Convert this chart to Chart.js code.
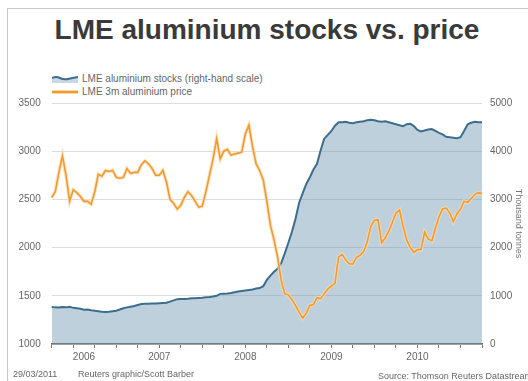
<!DOCTYPE html>
<html lang="en">
<head>
<meta charset="UTF-8">
<title>LME aluminium stocks vs. price</title>
<script src="https://cdn.jsdelivr.net/npm/chart.js"></script>
<style>
  body { margin: 0; width: 528px; height: 381px; overflow: hidden; background: #fff; position: relative;
         font-family: "Liberation Sans", Arial, sans-serif; }
  .frame { position: absolute; left: 7px; top: 8px; width: 560px; height: 400px; border: 1px solid #c8c8c8; }
  h1 { position: absolute; left: 0; width: 534px; top: 14px; margin: 0; text-align: center;
       font: bold 28px "Liberation Sans", Arial, sans-serif; color: #3a3a3a; }
  #chart { position: absolute; left: 0; top: 0; }
  .legend { position: absolute; left: 52px; top: 72px; font-size: 10px; color: #666; line-height: 13px; }
  .legend div { display: flex; align-items: center; }
  .legend svg { margin-right: 4px; }
  .foot { position: absolute; top: 369px; font-size: 9px; color: #666; white-space: nowrap; }
</style>
</head>
<body>
<div class="frame"></div>
<h1>LME aluminium stocks vs. price</h1>
<div class="legend">
  <div><svg width="26" height="8"><path d="M0 3 Q4 1 8 3 T16 4 T26 2 L26 8 L0 8 Z" fill="#c9d9e3"/><path d="M0 3 Q4 1 8 3 T16 4 T26 2" stroke="#3d6d8e" stroke-width="2" fill="none"/></svg>LME aluminium stocks (right-hand scale)</div>
  <div><svg width="26" height="8"><line x1="0" y1="4" x2="26" y2="4" stroke="#f7d7a6" stroke-width="4"/><line x1="0" y1="4" x2="26" y2="4" stroke="#ef9a33" stroke-width="2"/></svg>LME 3m aluminium price</div>
</div>
<canvas id="chart" width="528" height="381"></canvas>
<div class="foot" style="left:13px">29/03/2011</div>
<div class="foot" style="left:78px">Reuters graphic/Scott Barber</div>
<div class="foot" style="left:378px;top:371px">Source: Thomson Reuters Datastream</div>

<script>
const dates = [
  '2006-04-01','2006-04-16','2006-05-01','2006-05-16','2006-06-01','2006-06-16','2006-07-01','2006-07-16','2006-08-01','2006-08-16',
  '2006-09-01','2006-09-16','2006-10-01','2006-10-16','2006-11-01','2006-11-16','2006-12-01','2006-12-16',
  '2007-01-01','2007-01-16','2007-02-01','2007-02-16','2007-03-01','2007-03-16','2007-04-01','2007-04-16','2007-05-01','2007-05-16',
  '2007-06-01','2007-06-16','2007-07-01','2007-07-16','2007-08-01','2007-08-16','2007-09-01','2007-09-16','2007-10-01','2007-10-16',
  '2007-11-01','2007-11-16','2007-12-01','2007-12-16',
  '2008-01-01','2008-01-16','2008-02-01','2008-02-16','2008-03-01','2008-03-16','2008-04-01','2008-04-16','2008-05-01','2008-05-16',
  '2008-06-01','2008-06-16','2008-07-01','2008-07-16','2008-08-01','2008-08-16','2008-09-01','2008-09-16','2008-10-01','2008-10-16',
  '2008-11-01','2008-11-16','2008-12-01','2008-12-16',
  '2009-01-01','2009-01-16','2009-02-01','2009-02-16','2009-03-01','2009-03-16','2009-04-01','2009-04-16','2009-05-01','2009-05-16',
  '2009-06-01','2009-06-16','2009-07-01','2009-07-16','2009-08-01','2009-08-16','2009-09-01','2009-09-16','2009-10-01','2009-10-16',
  '2009-11-01','2009-11-16','2009-12-01','2009-12-16',
  '2010-01-01','2010-01-16','2010-02-01','2010-02-16','2010-03-01','2010-03-16','2010-04-01','2010-04-16','2010-05-01','2010-05-16',
  '2010-06-01','2010-06-16','2010-07-01','2010-07-16','2010-08-01','2010-08-16','2010-09-01','2010-09-16','2010-10-01','2010-10-16',
  '2010-11-01','2010-11-16','2010-12-01','2010-12-16',
  '2011-01-01','2011-01-16','2011-02-01','2011-02-16','2011-03-01','2011-03-16','2011-04-01'
];

// LME 3m aluminium price, $/tonne (left scale)
const price = [
  2520,2580,2780,2950,2750,2480,2600,2570,2530,2480,
  2480,2450,2580,2760,2740,2800,2790,2800,2730,2720,
  2730,2820,2770,2780,2780,2860,2900,2870,2820,2750,
  2750,2800,2680,2500,2460,2400,2440,2520,2580,2540,
  2480,2420,2430,2580,2750,2920,3130,2920,3000,3020,
  2960,2970,2980,2990,3180,3270,3050,2870,2800,2700,
  2480,2230,2080,1900,1660,1520,1510,1460,1400,1330,
  1270,1320,1400,1410,1480,1470,1520,1570,1600,1630,
  1900,1930,1870,1830,1830,1900,1920,1960,2060,2220,
  2285,2290,2050,2100,2170,2260,2360,2390,2220,2080,
  2000,1950,1980,1980,2160,2090,2070,2200,2320,2400,
  2410,2360,2270,2350,2400,2480,2470,2510,2550,2570,
  2560
];

// LME aluminium stocks, thousand tonnes (right scale)
const stocks = [
  770,760,755,765,760,770,750,740,730,710,
  715,700,690,680,670,665,670,680,690,715,
  740,760,775,790,810,830,835,835,840,840,
  845,850,855,880,905,930,935,935,940,950,
  950,955,960,970,975,985,1000,1040,1045,1050,
  1060,1075,1090,1100,1110,1120,1130,1150,1160,1200,
  1330,1420,1500,1560,1680,1880,2100,2330,2600,2930,
  3130,3320,3460,3620,3740,4020,4260,4340,4420,4530,
  4600,4600,4610,4590,4580,4600,4610,4620,4640,4650,
  4640,4620,4610,4620,4600,4580,4560,4540,4520,4560,
  4570,4520,4440,4410,4430,4450,4460,4420,4380,4350,
  4300,4290,4280,4270,4290,4420,4560,4590,4610,4600,
  4600
];

const yearTickDates = ['2006-08-16', '2007-07-01', '2008-07-01', '2009-07-01', '2010-07-01'];
const yearTickLabels = ['2006', '2007', '2008', '2009', '2010'];

function isQuarterStart(d) {
  const m = +d.slice(5, 7);
  return d.slice(8) === '01' && (m - 1) % 3 === 0;
}

const axisFont = { family: '"Liberation Sans", Arial, sans-serif', size: 10 };
const plain = v => String(v);

new Chart(document.getElementById('chart'), {
  type: 'line',
  data: {
    labels: dates,
    datasets: [
      { label: 'LME 3m aluminium price', data: price, yAxisID: 'y',
        borderColor: '#ef9a33', borderWidth: 1.6, pointRadius: 0, fill: false, order: 0 },
      { label: 'price halo', data: price, yAxisID: 'y',
        borderColor: 'rgba(250,220,175,0.8)', borderWidth: 3.6, pointRadius: 0, fill: false, order: 1 },
      { label: 'LME aluminium stocks (right-hand scale)', data: stocks, yAxisID: 'y2',
        borderColor: '#3d6d8e', borderWidth: 2, pointRadius: 0,
        fill: 'origin', backgroundColor: 'rgba(111,151,177,0.45)', order: 2 }
    ]
  },
  options: {
    responsive: false,
    animation: false,
    devicePixelRatio: 1,
    layout: { padding: { top: 103, left: 0, right: 0, bottom: 0 } },
    plugins: { legend: { display: false }, tooltip: { enabled: false } },
    scales: {
      x: {
        type: 'category',
        afterFit: s => { s.height = 37; },
        border: { display: true, color: '#666', width: 1.5 },
        grid: { drawOnChartArea: false, drawTicks: true, tickLength: 4,
                tickColor: c => isQuarterStart(dates[c.index] || '') ? '#777' : 'rgba(0,0,0,0)' },
        ticks: {
          autoSkip: false, maxRotation: 0, padding: 3, color: '#666', font: axisFont,
          callback: function (v, i) {
            const k = yearTickDates.indexOf(dates[i]);
            return k >= 0 ? yearTickLabels[k] : '';
          }
        }
      },
      y: {
        position: 'left', min: 1000, max: 3500,
        afterFit: s => { s.width = 51.7; },
        border: { display: false },
        grid: { color: '#dcdcdc', drawTicks: false },
        ticks: { stepSize: 500, padding: 11, color: '#666', font: axisFont, callback: plain }
      },
      y2: {
        position: 'right', min: 0, max: 5000,
        afterFit: s => { s.width = 46; },
        border: { display: false },
        grid: { display: false, drawTicks: false },
        ticks: { stepSize: 1000, padding: 8, color: '#666', font: axisFont, callback: plain },
        title: { display: true, text: 'Thousand tonnes', color: '#777',
                 font: { family: axisFont.family, size: 9 }, padding: { top: 4, bottom: 0 } }
      }
    }
  }
});
</script>
</body>
</html>
